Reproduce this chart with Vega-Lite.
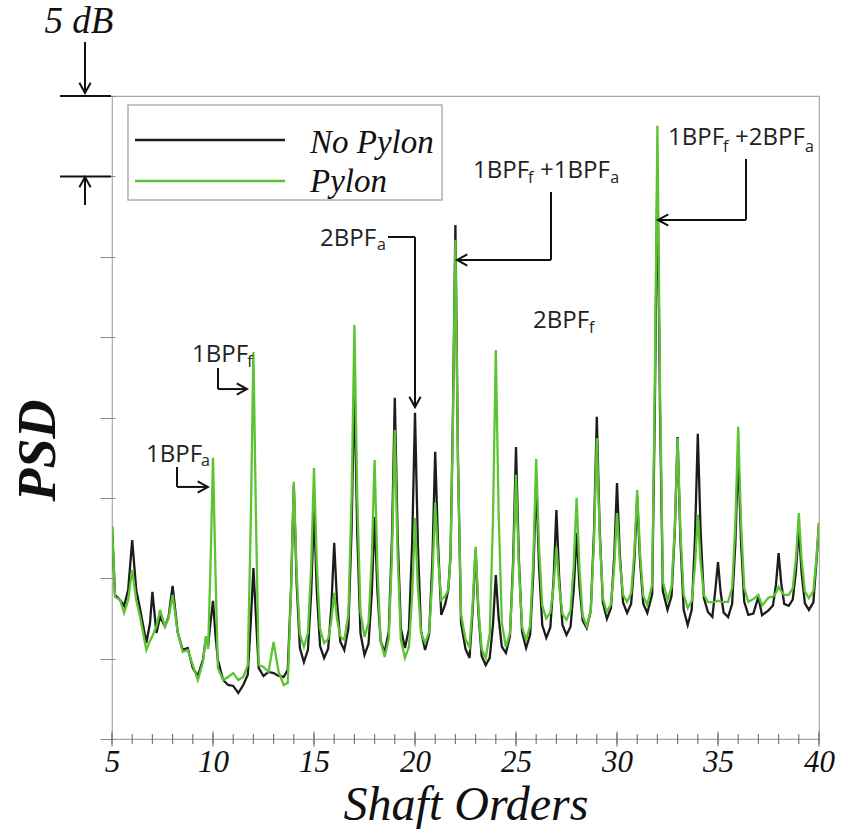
{
  "$schema": "https://vega.github.io/schema/vega-lite/v6.json",
  "width": 707,
  "height": 643,
  "autosize": "none",
  "padding": {"left": 112, "top": 96, "right": 27, "bottom": 90},
  "background": "white",
  "config": {
    "view": {"stroke": "#a8a8a8", "strokeWidth": 1.2},
    "axisX": {
      "domain": false, "grid": false, "offset": 0, "ticks": false, "tickSize": 0,
      "labelFont": "Liberation Serif", "labelFontStyle": "italic", "labelFontSize": 31, "labelColor": "#111",
      "labelBaseline": "alphabetic", "labelPadding": 32,
      "labelOverlap": false, "labelFlush": false, "labelBound": false,
      "titleFont": "Liberation Serif", "titleFontStyle": "italic",
      "titleFontWeight": "normal", "titleFontSize": 48, "titleColor": "#111",
      "titleBaseline": "alphabetic", "titleY": 80
    },
    "axisY": {
      "labels": false, "domain": false, "grid": false, "offset": -3,
      "tickSize": 15, "tickColor": "#8a8a8a", "tickWidth": 1,
      "titleFont": "Liberation Serif", "titleFontStyle": "italic",
      "titleFontWeight": "bold", "titleFontSize": 54, "titleColor": "#111",
      "titleAngle": -90, "titleX": -77, "titleY": 354, "titleBaseline": "middle", "titleAlign": "center"
    }
  },
  "datasets": {
    "psd": [
      {"x":5.0,"np":13.25,"p":13.25},{"x":5.15,"np":8.96,"p":8.84},{"x":5.4,"np":8.65,"p":8.65},{"x":5.6,"np":8.28,"p":7.84},{"x":5.8,"np":9.27,"p":8.65},
      {"x":6.0,"np":12.38,"p":10.52},{"x":6.2,"np":9.27,"p":8.65},{"x":6.4,"np":8.03,"p":7.53},{"x":6.7,"np":5.97,"p":5.54},{"x":6.88,"np":7.2,"p":6.1},
      {"x":7.0,"np":9.15,"p":6.4},{"x":7.2,"np":6.6,"p":7.0},{"x":7.38,"np":7.6,"p":8.03},{"x":7.62,"np":7.0,"p":7.0},{"x":7.8,"np":7.6,"p":7.5},
      {"x":8.0,"np":9.52,"p":8.96},{"x":8.25,"np":6.66,"p":6.66},{"x":8.5,"np":5.54,"p":5.41},{"x":8.75,"np":5.66,"p":5.54},{"x":9.0,"np":4.42,"p":4.6},
      {"x":9.25,"np":3.92,"p":3.67},{"x":9.5,"np":4.92,"p":4.79},{"x":9.65,"np":6.28,"p":6.4},{"x":9.76,"np":5.8,"p":5.6},{"x":9.88,"np":7.3,"p":11.0},
      {"x":10.0,"np":8.59,"p":17.49},{"x":10.12,"np":6.5,"p":10.5},{"x":10.24,"np":4.92,"p":4.42},{"x":10.5,"np":3.67,"p":3.67},{"x":10.75,"np":3.36,"p":3.86},
      {"x":11.0,"np":3.3,"p":4.1},{"x":11.25,"np":2.86,"p":3.67},{"x":11.5,"np":3.36,"p":3.86},{"x":11.72,"np":4.0,"p":4.6},{"x":11.87,"np":7.3,"p":13.5},
      {"x":12.0,"np":10.64,"p":24.08},{"x":12.13,"np":7.5,"p":13.5},{"x":12.26,"np":4.42,"p":4.6},{"x":12.5,"np":3.92,"p":4.48},{"x":12.75,"np":4.17,"p":4.17},
      {"x":13.0,"np":4.1,"p":6.04},{"x":13.25,"np":3.92,"p":4.17},{"x":13.5,"np":3.86,"p":3.36},{"x":13.7,"np":4.3,"p":3.5},{"x":13.86,"np":9.23,"p":9.05},
      {"x":14.0,"np":15.8,"p":16.0},{"x":14.14,"np":9.74,"p":10.35},{"x":14.3,"np":5.67,"p":6.54},{"x":14.5,"np":4.79,"p":5.72},{"x":14.7,"np":5.55,"p":6.61},
      {"x":14.86,"np":9.05,"p":10.73},{"x":15.0,"np":14.25,"p":16.86},{"x":15.14,"np":9.18,"p":10.87},{"x":15.3,"np":5.78,"p":6.84},{"x":15.5,"np":5.04,"p":5.97},
      {"x":15.7,"np":5.61,"p":6.22},{"x":15.86,"np":8.26,"p":7.37},{"x":16.0,"np":12.2,"p":9.09},{"x":16.14,"np":8.54,"p":7.48},{"x":16.3,"np":6.07,"p":6.39},
      {"x":16.5,"np":5.54,"p":6.16},{"x":16.7,"np":6.87,"p":7.73},{"x":16.86,"np":13.01,"p":14.98},{"x":17.0,"np":22.15,"p":25.76},{"x":17.14,"np":12.84,"p":15.08},
      {"x":17.3,"np":6.58,"p":7.9},{"x":17.5,"np":5.23,"p":6.35},{"x":17.7,"np":5.92,"p":7.23},{"x":17.86,"np":9.09,"p":11.3},{"x":18.0,"np":13.81,"p":17.36},
      {"x":18.14,"np":9.19,"p":10.62},{"x":18.3,"np":6.08,"p":6.08},{"x":18.5,"np":5.41,"p":5.1},{"x":18.7,"np":6.67,"p":6.23},{"x":18.86,"np":12.52,"p":11.46},
      {"x":19.0,"np":21.22,"p":19.23},{"x":19.14,"np":12.66,"p":11.43},{"x":19.3,"np":6.9,"p":6.18},{"x":19.5,"np":5.66,"p":5.04},{"x":19.7,"np":6.83,"p":5.74},
      {"x":19.86,"np":12.24,"p":8.96},{"x":20.0,"np":20.29,"p":13.75},{"x":20.14,"np":12.18,"p":9.47},{"x":20.3,"np":6.72,"p":6.59},{"x":20.5,"np":5.54,"p":5.97},
      {"x":20.7,"np":6.53,"p":6.67},{"x":20.86,"np":11.08,"p":9.89},{"x":21.0,"np":17.86,"p":14.69},{"x":21.14,"np":12.16,"p":11.29},{"x":21.3,"np":7.72,"p":8.65},
      {"x":21.5,"np":8.4,"p":8.9},{"x":21.65,"np":9.3,"p":9.3},{"x":21.76,"np":11.5,"p":11.3},{"x":21.87,"np":19.5,"p":19.1},{"x":22.0,"np":31.98,"p":31.05},
      {"x":22.13,"np":17.16,"p":17.12},{"x":22.28,"np":7.2,"p":7.75},{"x":22.5,"np":5.6,"p":6.2},{"x":22.7,"np":5.04,"p":5.72},{"x":22.86,"np":8.1,"p":8.5},
      {"x":23.0,"np":11.76,"p":11.95},{"x":23.14,"np":7.82,"p":8.15},{"x":23.3,"np":5.17,"p":5.59},{"x":23.5,"np":4.6,"p":5.04},{"x":23.7,"np":5.05,"p":6.57},
      {"x":23.86,"np":7.12,"p":13.66},{"x":24.0,"np":10.2,"p":24.2},{"x":24.14,"np":7.53,"p":14.04},{"x":24.3,"np":5.74,"p":7.2},{"x":24.5,"np":5.35,"p":5.72},
      {"x":24.7,"np":6.38,"p":6.58},{"x":24.86,"np":11.12,"p":10.54},{"x":25.0,"np":18.17,"p":16.43},{"x":25.14,"np":11.29,"p":10.78},{"x":25.3,"np":6.66,"p":6.98},
      {"x":25.5,"np":5.66,"p":6.16},{"x":25.7,"np":6.5,"p":7.06},{"x":25.86,"np":10.37,"p":11.23},{"x":26.0,"np":16.12,"p":17.42},{"x":26.14,"np":10.72,"p":11.96},
      {"x":26.3,"np":7.09,"p":8.29},{"x":26.5,"np":6.3,"p":7.5},{"x":26.7,"np":6.94,"p":7.86},{"x":26.86,"np":9.88,"p":9.5},{"x":27.0,"np":14.25,"p":11.95},
      {"x":27.14,"np":9.97,"p":9.45},{"x":27.3,"np":7.09,"p":7.77},{"x":27.5,"np":6.47,"p":7.41},{"x":27.7,"np":6.98,"p":8.02},{"x":27.86,"np":9.33,"p":10.83},
      {"x":28.0,"np":12.82,"p":15.0},{"x":28.14,"np":9.57,"p":10.62},{"x":28.3,"np":7.38,"p":7.67},{"x":28.5,"np":6.91,"p":7.03},{"x":28.7,"np":7.96,"p":7.97},
      {"x":28.86,"np":12.82,"p":12.3},{"x":29.0,"np":20.04,"p":18.73},{"x":29.14,"np":13.13,"p":12.77},{"x":29.3,"np":8.48,"p":8.77},{"x":29.5,"np":7.47,"p":7.9},
      {"x":29.7,"np":8.15,"p":8.39},{"x":29.86,"np":11.28,"p":10.67},{"x":30.0,"np":15.93,"p":14.06},{"x":30.14,"np":11.48,"p":11.02},{"x":30.3,"np":8.49,"p":8.97},
      {"x":30.5,"np":7.84,"p":8.53},{"x":30.7,"np":8.42,"p":9.09},{"x":30.86,"np":11.09,"p":11.66},{"x":31.0,"np":15.06,"p":15.49},{"x":31.14,"np":11.09,"p":11.56},
      {"x":31.3,"np":8.42,"p":8.91},{"x":31.5,"np":7.84,"p":8.34},{"x":31.74,"np":9.0,"p":9.6},{"x":31.87,"np":20.3,"p":21.75},{"x":32.0,"np":35.53,"p":38.15},
      {"x":32.13,"np":20.4,"p":21.93},{"x":32.27,"np":9.2,"p":9.8},{"x":32.5,"np":8.03,"p":8.65},{"x":32.7,"np":8.89,"p":9.46},{"x":32.86,"np":12.87,"p":13.19},
      {"x":33.0,"np":18.79,"p":18.73},{"x":33.14,"np":12.36,"p":12.91},{"x":33.3,"np":8.03,"p":9.0},{"x":33.5,"np":7.09,"p":8.15},{"x":33.7,"np":8.04,"p":8.61},
      {"x":33.86,"np":12.44,"p":10.76},{"x":34.0,"np":18.98,"p":13.94},{"x":34.14,"np":12.89,"p":10.96},{"x":34.3,"np":8.79,"p":8.96},{"x":34.5,"np":7.9,"p":8.53},
      {"x":34.72,"np":7.6,"p":8.5},{"x":34.87,"np":9.3,"p":8.55},{"x":35.0,"np":11.01,"p":8.6},{"x":35.13,"np":9.13,"p":8.55},{"x":35.28,"np":7.86,"p":8.53},
      {"x":35.5,"np":7.59,"p":8.53},{"x":35.7,"np":8.41,"p":9.4},{"x":35.86,"np":12.21,"p":13.43},{"x":36.0,"np":17.86,"p":19.42},{"x":36.14,"np":12.28,"p":13.43},
      {"x":36.3,"np":8.53,"p":9.4},{"x":36.5,"np":7.72,"p":8.53},{"x":36.75,"np":7.8,"p":8.7},{"x":37.0,"np":8.84,"p":8.96},{"x":37.18,"np":7.7,"p":8.3},
      {"x":37.5,"np":8.0,"p":8.8},{"x":37.72,"np":8.3,"p":8.85},{"x":37.87,"np":9.6,"p":9.1},{"x":38.0,"np":11.57,"p":9.46},{"x":38.13,"np":9.7,"p":9.2},
      {"x":38.28,"np":8.4,"p":8.96},{"x":38.5,"np":8.28,"p":8.96},{"x":38.7,"np":8.67,"p":9.37},{"x":38.86,"np":10.46,"p":11.26},{"x":39.0,"np":13.13,"p":14.06},
      {"x":39.14,"np":10.33,"p":11.15},{"x":39.3,"np":8.44,"p":9.19},{"x":39.5,"np":8.03,"p":8.77},{"x":39.72,"np":8.5,"p":9.2},{"x":39.87,"np":11.0,"p":11.2},
      {"x":40.0,"np":13.44,"p":13.44}
    ],
    "xticks": [
      {"x":5},{"x":6},{"x":7},{"x":8},{"x":9},{"x":10},{"x":11},{"x":12},{"x":13},{"x":14},{"x":15},{"x":16},
      {"x":17},{"x":18},{"x":19},{"x":20},{"x":21},{"x":22},{"x":23},{"x":24},{"x":25},{"x":26},{"x":27},{"x":28},
      {"x":29},{"x":30},{"x":31},{"x":32},{"x":33},{"x":34},{"x":35},{"x":36},{"x":37},{"x":38},{"x":39},{"x":40}
    ],
    "segs": [
      {"x":2.43,"x2":4.95,"y":40.0,"y2":40.0},
      {"x":2.43,"x2":4.95,"y":35.0,"y2":35.0},
      {"x":3.663,"x2":3.663,"y":43.36,"y2":40.19},
      {"x":3.663,"x2":3.663,"y":33.22,"y2":34.96},
      {"x":8.218,"x2":8.218,"y":16.92,"y2":15.68},
      {"x":8.218,"x2":9.75,"y":15.68,"y2":15.68},
      {"x":10.248,"x2":10.248,"y":23.08,"y2":21.77},
      {"x":10.248,"x2":11.683,"y":21.77,"y2":21.77},
      {"x":18.663,"x2":20.0,"y":31.23,"y2":31.23},
      {"x":20.0,"x2":20.0,"y":31.23,"y2":20.65},
      {"x":26.733,"x2":26.733,"y":34.03,"y2":29.8},
      {"x":26.733,"x2":22.08,"y":29.8,"y2":29.8},
      {"x":36.386,"x2":36.386,"y":36.08,"y2":32.29},
      {"x":36.386,"x2":32.03,"y":32.29,"y2":32.29}
    ],
    "heads": [
      {"x":9.75,"y":15.68,"dir":"right"},
      {"x":11.683,"y":21.77,"dir":"right"},
      {"x":20.0,"y":20.65,"dir":"down"},
      {"x":22.08,"y":29.8,"dir":"left"},
      {"x":32.03,"y":32.29,"dir":"left"},
      {"x":3.663,"y":40.19,"dir":"down"},
      {"x":3.663,"y":34.96,"dir":"up"}
    ],
    "main": [
      {"x":6.683,"y":17.24,"t":"1BPF"},
      {"x":8.96,"y":23.45,"t":"1BPF"},
      {"x":15.297,"y":30.67,"t":"2BPF"},
      {"x":22.871,"y":34.91,"t":"1BPF"},
      {"x":26.188,"y":34.91,"t":"+1BPF"},
      {"x":25.842,"y":25.57,"t":"2BPF"},
      {"x":32.525,"y":36.96,"t":"1BPF"},
      {"x":35.842,"y":36.96,"t":"+2BPF"}
    ],
    "subs": [
      {"x":9.41,"y":16.99,"t":"a"},
      {"x":11.69,"y":23.15,"t":"f"},
      {"x":18.12,"y":30.42,"t":"a"},
      {"x":25.6,"y":34.6,"t":"f"},
      {"x":29.66,"y":34.6,"t":"a"},
      {"x":28.62,"y":25.26,"t":"f"},
      {"x":35.25,"y":36.52,"t":"f"},
      {"x":39.31,"y":36.52,"t":"a"}
    ],
    "box": [{"x":5.792,"x2":21.337,"y":39.44,"y2":33.53}],
    "legLines": [
      {"series":"np","x":6.139,"x2":13.564,"y":37.26},
      {"series":"p","x":6.139,"x2":13.564,"y":34.71}
    ],
    "legText": [
      {"x":14.802,"y":36.45,"t":"No Pylon"},
      {"x":14.802,"y":34.03,"t":"Pylon"}
    ],
    "dbText": [{"x":3.366,"y":43.92,"t":"5 dB"}]
  },
  "layer": [
    {
      "data": {"name": "psd"},
      "transform": [{"fold": ["np", "p"], "as": ["series", "v"]}],
      "mark": {"type": "line", "strokeWidth": 2.3, "clip": true},
      "encoding": {
        "x": {
          "field": "x", "type": "quantitative", "title": "Shaft Orders",
          "scale": {"domain": [5, 40], "nice": false, "zero": false},
          "axis": {"values": [5,10,15,20,25,30,35,40], "labelOverlap": false, "ticks": false, "title": "Shaft Orders"}
        },
        "y": {
          "field": "v", "type": "quantitative", "title": "PSD",
          "scale": {"domain": [0, 40], "nice": false, "zero": false},
          "axis": {"values": [0,5,10,15,20,25,30,35,40], "title": "PSD"}
        },
        "color": {
          "field": "series", "type": "nominal",
          "scale": {"domain": ["np", "p"], "range": ["#1c1c1c", "#5cc433"]},
          "legend": null
        }
      }
    },
    {
      "data": {"name": "xticks"},
      "mark": {"type": "tick", "orient": "vertical", "size": 10, "thickness": 1.2, "color": "#7a7a7a", "opacity": 1},
      "encoding": {
        "x": {"field": "x", "type": "quantitative", "title": "Shaft Orders", "scale": {"domain": [5, 40], "nice": false, "zero": false}},
        "y": {"datum": 0, "type": "quantitative", "title": "PSD", "scale": {"domain": [0, 40], "nice": false, "zero": false}}
      }
    },
    {
      "data": {"name": "xticks"},
      "transform": [{"filter": "datum.x % 5 === 0"}],
      "mark": {"type": "tick", "orient": "vertical", "size": 15, "thickness": 1.2, "color": "#7a7a7a", "opacity": 1},
      "encoding": {
        "x": {"field": "x", "type": "quantitative", "title": "Shaft Orders", "scale": {"domain": [5, 40], "nice": false, "zero": false}},
        "y": {"datum": 0, "type": "quantitative", "title": "PSD", "scale": {"domain": [0, 40], "nice": false, "zero": false}}
      }
    },
    {
      "data": {"name": "segs"},
      "mark": {"type": "rule", "strokeWidth": 2, "color": "#111"},
      "encoding": {
        "x": {"field": "x", "type": "quantitative", "title": "Shaft Orders", "scale": {"domain": [5, 40], "nice": false, "zero": false}},
        "x2": {"field": "x2"},
        "y": {"field": "y", "type": "quantitative", "title": "PSD", "scale": {"domain": [0, 40], "nice": false, "zero": false}},
        "y2": {"field": "y2"}
      }
    },
    {
      "data": {"name": "heads"},
      "mark": {"type": "point", "filled": false, "color": "#111", "strokeWidth": 2, "size": 420, "opacity": 1},
      "encoding": {
        "x": {"field": "x", "type": "quantitative", "title": "Shaft Orders", "scale": {"domain": [5, 40], "nice": false, "zero": false}},
        "y": {"field": "y", "type": "quantitative", "title": "PSD", "scale": {"domain": [0, 40], "nice": false, "zero": false}},
        "shape": {
          "field": "dir", "type": "nominal",
          "scale": {"domain": ["right", "left", "down", "up"],
                    "range": ["M-1,-0.55L0,0L-1,0.55", "M1,-0.55L0,0L1,0.55", "M-0.55,-1L0,0L0.55,-1", "M-0.55,1L0,0L0.55,1"]},
          "legend": null
        }
      }
    },
    {
      "data": {"name": "main"},
      "mark": {"type": "text", "align": "left", "baseline": "alphabetic", "font": "Open Sans", "fontSize": 24, "color": "#222"},
      "encoding": {
        "x": {"field": "x", "type": "quantitative", "title": "Shaft Orders", "scale": {"domain": [5, 40], "nice": false, "zero": false}},
        "y": {"field": "y", "type": "quantitative", "title": "PSD", "scale": {"domain": [0, 40], "nice": false, "zero": false}},
        "text": {"field": "t"}
      }
    },
    {
      "data": {"name": "subs"},
      "mark": {"type": "text", "align": "left", "baseline": "alphabetic", "font": "Open Sans", "fontSize": 16, "color": "#222"},
      "encoding": {
        "x": {"field": "x", "type": "quantitative", "title": "Shaft Orders", "scale": {"domain": [5, 40], "nice": false, "zero": false}},
        "y": {"field": "y", "type": "quantitative", "title": "PSD", "scale": {"domain": [0, 40], "nice": false, "zero": false}},
        "text": {"field": "t"}
      }
    },
    {
      "data": {"name": "box"},
      "mark": {"type": "rect", "fill": "white", "stroke": "#b0b0b0", "strokeWidth": 1.5},
      "encoding": {
        "x": {"field": "x", "type": "quantitative", "title": "Shaft Orders", "scale": {"domain": [5, 40], "nice": false, "zero": false}},
        "x2": {"field": "x2"},
        "y": {"field": "y", "type": "quantitative", "title": "PSD", "scale": {"domain": [0, 40], "nice": false, "zero": false}},
        "y2": {"field": "y2"}
      }
    },
    {
      "data": {"name": "legLines"},
      "mark": {"type": "rule", "strokeWidth": 2.5},
      "encoding": {
        "x": {"field": "x", "type": "quantitative", "title": "Shaft Orders", "scale": {"domain": [5, 40], "nice": false, "zero": false}},
        "x2": {"field": "x2"},
        "y": {"field": "y", "type": "quantitative", "title": "PSD", "scale": {"domain": [0, 40], "nice": false, "zero": false}},
        "color": {"field": "series", "type": "nominal", "scale": {"domain": ["np", "p"], "range": ["#1c1c1c", "#5cc433"]}, "legend": null}
      }
    },
    {
      "data": {"name": "legText"},
      "mark": {"type": "text", "align": "left", "baseline": "alphabetic", "font": "Liberation Serif", "fontStyle": "italic", "fontSize": 33, "color": "#111"},
      "encoding": {
        "x": {"field": "x", "type": "quantitative", "title": "Shaft Orders", "scale": {"domain": [5, 40], "nice": false, "zero": false}},
        "y": {"field": "y", "type": "quantitative", "title": "PSD", "scale": {"domain": [0, 40], "nice": false, "zero": false}},
        "text": {"field": "t"}
      }
    },
    {
      "data": {"name": "dbText"},
      "mark": {"type": "text", "align": "center", "baseline": "alphabetic", "font": "Liberation Serif", "fontStyle": "italic", "fontSize": 37, "color": "#111"},
      "encoding": {
        "x": {"field": "x", "type": "quantitative", "title": "Shaft Orders", "scale": {"domain": [5, 40], "nice": false, "zero": false}},
        "y": {"field": "y", "type": "quantitative", "title": "PSD", "scale": {"domain": [0, 40], "nice": false, "zero": false}},
        "text": {"field": "t"}
      }
    }
  ]
}
